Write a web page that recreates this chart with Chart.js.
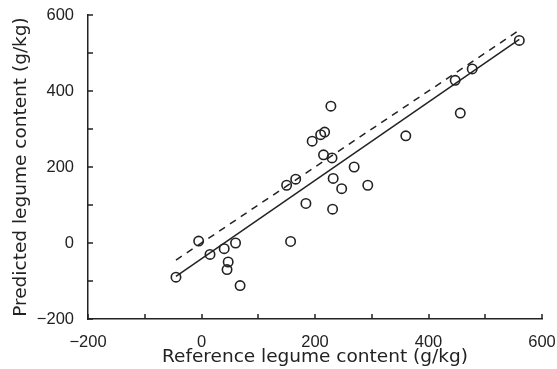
<!DOCTYPE html>
<html>
<head>
<meta charset="utf-8">
<script src="https://cdn.jsdelivr.net/npm/chart.js@4.4.0/dist/chart.umd.min.js"></script>
<style>
  html, body { margin: 0; padding: 0; background: #fff; }
  #wrap { width: 557px; height: 369px; }
</style>
</head>
<body>
<div id="wrap"><canvas id="myChart"></canvas></div>
<script>
// reference vs predicted legume content (g/kg)
var refX  = [-45, -5, 15, 40, 60, 47, 45, 68, 157, 150, 166, 184, 195, 210, 217, 228, 215, 230, 232, 231, 247, 269, 293, 360, 447, 456, 477, 560];
var predY = [-90, 5, -30, -15, 0, -50, -70, -112, 4, 152, 168, 104, 268, 285, 292, 360, 232, 224, 170, 89, 143, 200, 152, 282, 428, 342, 458, 533];

// regression line and 1:1 line
var fitX = [-45, 560];
var fitY = [-88, 536];
var oneX = [-45, 560];
var oneY = [-45, 560];

var xTicks = [-200, 0, 200, 400, 600];
var yTicks = [-200, 0, 200, 400, 600];
var minorStep = 100;

function pts(xs, ys) {
  var out = [];
  for (var i = 0; i < xs.length; i++) out.push({ x: xs[i], y: ys[i] });
  return out;
}

function fmt(v) {
  return v < 0 ? "\u2212" + Math.abs(v) : String(v);
}

// inward tick marks on both axes
var tickPlugin = {
  id: "inTicks",
  afterDraw: function (chart) {
    var ctx = chart.ctx;
    var xs = chart.scales.x, ys = chart.scales.y;
    var area = chart.chartArea;
    ctx.save();
    ctx.strokeStyle = "#222";
    ctx.lineWidth = 1.5;
    ctx.beginPath();
    for (var v = xs.min; v <= xs.max; v += minorStep) {
      var px = Math.round(xs.getPixelForValue(v));
      ctx.moveTo(px, area.bottom);
      ctx.lineTo(px, area.bottom - 5);
    }
    for (var w = ys.min; w <= ys.max; w += minorStep) {
      var py = Math.round(ys.getPixelForValue(w));
      ctx.moveTo(area.left, py);
      ctx.lineTo(area.left + 5, py);
    }
    ctx.stroke();
    ctx.restore();
  },
};

var tickFont = { family: "'Liberation Sans', Arial, sans-serif", size: 16.5 };
var titleFont = { family: "'DejaVu Sans', sans-serif", size: 18.5 };

var myChart = document.getElementById("myChart").getContext("2d");
var chart = new Chart(myChart, {
  type: "scatter",
  data: {
    datasets: [
      {
        label: "Samples",
        data: pts(refX, predY),
        pointStyle: "circle",
        pointRadius: 4.7,
        pointBorderWidth: 1.6,
        borderColor: "#222",
        backgroundColor: "rgba(0,0,0,0)",
      },
      {
        label: "Regression",
        data: pts(fitX, fitY),
        showLine: true,
        pointRadius: 0,
        borderColor: "#222",
        borderWidth: 1.5,
      },
      {
        label: "1:1",
        data: pts(oneX, oneY),
        showLine: true,
        pointRadius: 0,
        borderColor: "#222",
        borderWidth: 1.5,
        borderDash: [7, 6],
      },
    ],
  },
  options: {
    responsive: true,
    maintainAspectRatio: false,
    animation: false,
    layout: { padding: { top: 15, right: 15, left: 0, bottom: 0 } },
    plugins: { legend: { display: false }, tooltip: { enabled: false } },
    scales: {
      x: {
        type: "linear",
        min: -200,
        max: 600,
        grid: { display: false, drawTicks: false },
        border: { display: true, color: "#222", width: 1.5 },
        ticks: {
          stepSize: minorStep,
          color: "#222",
          font: tickFont,
          padding: 14,
          maxRotation: 0,
          callback: function (v) { return xTicks.indexOf(v) >= 0 ? fmt(v) : ""; },
        },
        title: {
          display: true,
          text: "Reference legume content (g/kg)",
          color: "#222",
          font: titleFont,
          padding: { top: 0, bottom: 1 },
        },
        afterFit: function (s) {
          s.height = 50;
          s.paddingLeft = 0;
          s.paddingRight = 0;
        },
      },
      y: {
        type: "linear",
        min: -200,
        max: 600,
        grid: { display: false, drawTicks: false },
        border: { display: true, color: "#222", width: 1.5 },
        ticks: {
          stepSize: minorStep,
          color: "#222",
          font: tickFont,
          padding: 14,
          callback: function (v) { return yTicks.indexOf(v) >= 0 ? fmt(v) : ""; },
        },
        title: {
          display: true,
          text: "Predicted legume content (g/kg)",
          color: "#222",
          font: titleFont,
          padding: { top: 10, bottom: 0 },
        },
        afterFit: function (s) {
          s.width = 88;
          s.paddingTop = 0;
          s.paddingBottom = 0;
        },
      },
    },
  },
  plugins: [tickPlugin],
});
</script>
</body>
</html>
